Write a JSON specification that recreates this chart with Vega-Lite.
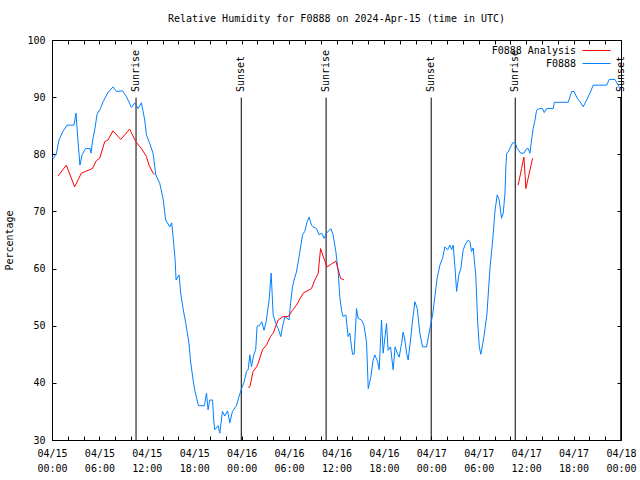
{
  "$schema": "https://vega.github.io/schema/vega-lite/v6.json",
  "width": 569,
  "height": 400,
  "autosize": "none",
  "padding": {"left": 52, "top": 40, "right": 19, "bottom": 40},
  "background": "white",
  "title": {"text": "Relative Humidity for F0888 on 2024-Apr-15 (time in UTC)", "font": "DejaVu Sans Mono", "fontSize": 10, "fontWeight": "normal", "color": "black", "offset": 11, "anchor": "middle"},
  "config": {
    "view": {"stroke": "black", "strokeWidth": 1},
    "font": "DejaVu Sans Mono",
    "axis": {"grid": false, "domain": false, "tickColor": "black", "tickWidth": 1, "labelFont": "DejaVu Sans Mono", "labelFontSize": 10, "labelColor": "black", "titleFont": "DejaVu Sans Mono", "titleFontSize": 10, "titleFontWeight": "normal", "titleColor": "black"},
    "legend": {"labelFont": "DejaVu Sans Mono", "labelFontSize": 10, "labelColor": "black"}
  },
  "datasets": {
    "ev": [
      {"t": "2024-04-15T10:38Z", "e": "Sunrise"},
      {"t": "2024-04-15T23:57Z", "e": "Sunset"},
      {"t": "2024-04-16T10:41Z", "e": "Sunrise"},
      {"t": "2024-04-16T23:59Z", "e": "Sunset"},
      {"t": "2024-04-17T10:37Z", "e": "Sunrise"},
      {"t": "2024-04-17T23:58Z", "e": "Sunset"}
    ],
    "hum": [
      {"s":"F0888","g":"b","t":"2024-04-15T00:00Z","v":79.5},
      {"s":"F0888","g":"b","t":"2024-04-15T00:13Z","v":79.3},
      {"s":"F0888","g":"b","t":"2024-04-15T00:34Z","v":80.2},
      {"s":"F0888","g":"b","t":"2024-04-15T00:53Z","v":82.5},
      {"s":"F0888","g":"b","t":"2024-04-15T01:23Z","v":84},
      {"s":"F0888","g":"b","t":"2024-04-15T01:54Z","v":85.1},
      {"s":"F0888","g":"b","t":"2024-04-15T02:47Z","v":85.1},
      {"s":"F0888","g":"b","t":"2024-04-15T03:02Z","v":87.2},
      {"s":"F0888","g":"b","t":"2024-04-15T03:17Z","v":82.5},
      {"s":"F0888","g":"b","t":"2024-04-15T03:32Z","v":78.1},
      {"s":"F0888","g":"b","t":"2024-04-15T03:48Z","v":79.9},
      {"s":"F0888","g":"b","t":"2024-04-15T04:14Z","v":81},
      {"s":"F0888","g":"b","t":"2024-04-15T04:49Z","v":81},
      {"s":"F0888","g":"b","t":"2024-04-15T04:56Z","v":80.2},
      {"s":"F0888","g":"b","t":"2024-04-15T05:11Z","v":82.8},
      {"s":"F0888","g":"b","t":"2024-04-15T05:26Z","v":84.5},
      {"s":"F0888","g":"b","t":"2024-04-15T05:42Z","v":87},
      {"s":"F0888","g":"b","t":"2024-04-15T06:08Z","v":88},
      {"s":"F0888","g":"b","t":"2024-04-15T06:28Z","v":89.2},
      {"s":"F0888","g":"b","t":"2024-04-15T07:05Z","v":90.8},
      {"s":"F0888","g":"b","t":"2024-04-15T07:43Z","v":91.8},
      {"s":"F0888","g":"b","t":"2024-04-15T08:09Z","v":91},
      {"s":"F0888","g":"b","t":"2024-04-15T08:55Z","v":91.1},
      {"s":"F0888","g":"b","t":"2024-04-15T09:25Z","v":90.1},
      {"s":"F0888","g":"b","t":"2024-04-15T10:03Z","v":88.2},
      {"s":"F0888","g":"b","t":"2024-04-15T10:28Z","v":89},
      {"s":"F0888","g":"b","t":"2024-04-15T10:53Z","v":88},
      {"s":"F0888","g":"b","t":"2024-04-15T11:19Z","v":89},
      {"s":"F0888","g":"b","t":"2024-04-15T11:44Z","v":86},
      {"s":"F0888","g":"b","t":"2024-04-15T11:57Z","v":83.4},
      {"s":"F0888","g":"b","t":"2024-04-15T12:22Z","v":81.9},
      {"s":"F0888","g":"b","t":"2024-04-15T12:47Z","v":80.2},
      {"s":"F0888","g":"b","t":"2024-04-15T13:08Z","v":76.4},
      {"s":"F0888","g":"b","t":"2024-04-15T13:38Z","v":74.9},
      {"s":"F0888","g":"b","t":"2024-04-15T14:03Z","v":72.3},
      {"s":"F0888","g":"b","t":"2024-04-15T14:23Z","v":68.5},
      {"s":"F0888","g":"b","t":"2024-04-15T14:54Z","v":67.3},
      {"s":"F0888","g":"b","t":"2024-04-15T15:09Z","v":68},
      {"s":"F0888","g":"b","t":"2024-04-15T15:19Z","v":65.6},
      {"s":"F0888","g":"b","t":"2024-04-15T15:34Z","v":61.8},
      {"s":"F0888","g":"b","t":"2024-04-15T15:42Z","v":58},
      {"s":"F0888","g":"b","t":"2024-04-15T16:05Z","v":58.9},
      {"s":"F0888","g":"b","t":"2024-04-15T16:17Z","v":55.7},
      {"s":"F0888","g":"b","t":"2024-04-15T16:35Z","v":53},
      {"s":"F0888","g":"b","t":"2024-04-15T16:56Z","v":50.4},
      {"s":"F0888","g":"b","t":"2024-04-15T17:20Z","v":46.9},
      {"s":"F0888","g":"b","t":"2024-04-15T17:31Z","v":44},
      {"s":"F0888","g":"b","t":"2024-04-15T17:51Z","v":40.5},
      {"s":"F0888","g":"b","t":"2024-04-15T18:06Z","v":38.5},
      {"s":"F0888","g":"b","t":"2024-04-15T18:32Z","v":36},
      {"s":"F0888","g":"b","t":"2024-04-15T19:17Z","v":36},
      {"s":"F0888","g":"b","t":"2024-04-15T19:33Z","v":38.2},
      {"s":"F0888","g":"b","t":"2024-04-15T19:45Z","v":35.3},
      {"s":"F0888","g":"b","t":"2024-04-15T19:58Z","v":37},
      {"s":"F0888","g":"b","t":"2024-04-15T20:19Z","v":37},
      {"s":"F0888","g":"b","t":"2024-04-15T20:28Z","v":33.5},
      {"s":"F0888","g":"b","t":"2024-04-15T20:36Z","v":31.8},
      {"s":"F0888","g":"b","t":"2024-04-15T21:01Z","v":32.5},
      {"s":"F0888","g":"b","t":"2024-04-15T21:14Z","v":31.2},
      {"s":"F0888","g":"b","t":"2024-04-15T21:34Z","v":35},
      {"s":"F0888","g":"b","t":"2024-04-15T21:52Z","v":34.2},
      {"s":"F0888","g":"b","t":"2024-04-15T22:13Z","v":35.1},
      {"s":"F0888","g":"b","t":"2024-04-15T22:30Z","v":33},
      {"s":"F0888","g":"b","t":"2024-04-15T22:50Z","v":35},
      {"s":"F0888","g":"b","t":"2024-04-15T23:20Z","v":36},
      {"s":"F0888","g":"b","t":"2024-04-15T23:40Z","v":37.6},
      {"s":"F0888","g":"b","t":"2024-04-15T23:59Z","v":39},
      {"s":"F0888","g":"b","t":"2024-04-16T00:19Z","v":40.2},
      {"s":"F0888","g":"b","t":"2024-04-16T00:37Z","v":42},
      {"s":"F0888","g":"b","t":"2024-04-16T00:49Z","v":42.3},
      {"s":"F0888","g":"b","t":"2024-04-16T01:02Z","v":44.9},
      {"s":"F0888","g":"b","t":"2024-04-16T01:14Z","v":42.8},
      {"s":"F0888","g":"b","t":"2024-04-16T01:32Z","v":44.9},
      {"s":"F0888","g":"b","t":"2024-04-16T01:47Z","v":45.9},
      {"s":"F0888","g":"b","t":"2024-04-16T01:57Z","v":49.9},
      {"s":"F0888","g":"b","t":"2024-04-16T02:17Z","v":50.1},
      {"s":"F0888","g":"b","t":"2024-04-16T02:33Z","v":50.7},
      {"s":"F0888","g":"b","t":"2024-04-16T02:50Z","v":49.2},
      {"s":"F0888","g":"b","t":"2024-04-16T03:08Z","v":51},
      {"s":"F0888","g":"b","t":"2024-04-16T03:28Z","v":54.5},
      {"s":"F0888","g":"b","t":"2024-04-16T03:44Z","v":59.2},
      {"s":"F0888","g":"b","t":"2024-04-16T03:59Z","v":51.9},
      {"s":"F0888","g":"b","t":"2024-04-16T04:19Z","v":50.4},
      {"s":"F0888","g":"b","t":"2024-04-16T04:37Z","v":49.5},
      {"s":"F0888","g":"b","t":"2024-04-16T04:57Z","v":48.1},
      {"s":"F0888","g":"b","t":"2024-04-16T05:10Z","v":49.8},
      {"s":"F0888","g":"b","t":"2024-04-16T05:28Z","v":51.6},
      {"s":"F0888","g":"b","t":"2024-04-16T06:00Z","v":51},
      {"s":"F0888","g":"b","t":"2024-04-16T06:11Z","v":53.9},
      {"s":"F0888","g":"b","t":"2024-04-16T06:26Z","v":56.8},
      {"s":"F0888","g":"b","t":"2024-04-16T06:38Z","v":58},
      {"s":"F0888","g":"b","t":"2024-04-16T06:56Z","v":59.4},
      {"s":"F0888","g":"b","t":"2024-04-16T07:16Z","v":62.1},
      {"s":"F0888","g":"b","t":"2024-04-16T07:42Z","v":65.9},
      {"s":"F0888","g":"b","t":"2024-04-16T07:59Z","v":66.5},
      {"s":"F0888","g":"b","t":"2024-04-16T08:17Z","v":68.2},
      {"s":"F0888","g":"b","t":"2024-04-16T08:32Z","v":69},
      {"s":"F0888","g":"b","t":"2024-04-16T08:50Z","v":67.6},
      {"s":"F0888","g":"b","t":"2024-04-16T09:02Z","v":67.3},
      {"s":"F0888","g":"b","t":"2024-04-16T09:28Z","v":67},
      {"s":"F0888","g":"b","t":"2024-04-16T09:48Z","v":65.9},
      {"s":"F0888","g":"b","t":"2024-04-16T10:07Z","v":66.2},
      {"s":"F0888","g":"b","t":"2024-04-16T10:26Z","v":65.3},
      {"s":"F0888","g":"b","t":"2024-04-16T10:44Z","v":66.2},
      {"s":"F0888","g":"b","t":"2024-04-16T11:17Z","v":67},
      {"s":"F0888","g":"b","t":"2024-04-16T11:34Z","v":65.9},
      {"s":"F0888","g":"b","t":"2024-04-16T11:55Z","v":63},
      {"s":"F0888","g":"b","t":"2024-04-16T12:13Z","v":59.4},
      {"s":"F0888","g":"b","t":"2024-04-16T12:25Z","v":55.1},
      {"s":"F0888","g":"b","t":"2024-04-16T12:38Z","v":52.7},
      {"s":"F0888","g":"b","t":"2024-04-16T12:50Z","v":51.6},
      {"s":"F0888","g":"b","t":"2024-04-16T13:11Z","v":51.9},
      {"s":"F0888","g":"b","t":"2024-04-16T13:28Z","v":48.1},
      {"s":"F0888","g":"b","t":"2024-04-16T13:41Z","v":48.7},
      {"s":"F0888","g":"b","t":"2024-04-16T13:54Z","v":46.3},
      {"s":"F0888","g":"b","t":"2024-04-16T14:02Z","v":45},
      {"s":"F0888","g":"b","t":"2024-04-16T14:14Z","v":45},
      {"s":"F0888","g":"b","t":"2024-04-16T14:32Z","v":53},
      {"s":"F0888","g":"b","t":"2024-04-16T14:44Z","v":51.3},
      {"s":"F0888","g":"b","t":"2024-04-16T15:10Z","v":51},
      {"s":"F0888","g":"b","t":"2024-04-16T15:28Z","v":50.1},
      {"s":"F0888","g":"b","t":"2024-04-16T15:48Z","v":47.2},
      {"s":"F0888","g":"b","t":"2024-04-16T16:01Z","v":39},
      {"s":"F0888","g":"b","t":"2024-04-16T16:21Z","v":41.1},
      {"s":"F0888","g":"b","t":"2024-04-16T16:38Z","v":44},
      {"s":"F0888","g":"b","t":"2024-04-16T16:51Z","v":44.9},
      {"s":"F0888","g":"b","t":"2024-04-16T17:12Z","v":43.7},
      {"s":"F0888","g":"b","t":"2024-04-16T17:24Z","v":42.3},
      {"s":"F0888","g":"b","t":"2024-04-16T17:42Z","v":51},
      {"s":"F0888","g":"b","t":"2024-04-16T17:54Z","v":45.2},
      {"s":"F0888","g":"b","t":"2024-04-16T18:20Z","v":50.4},
      {"s":"F0888","g":"b","t":"2024-04-16T18:32Z","v":45.7},
      {"s":"F0888","g":"b","t":"2024-04-16T18:50Z","v":46.3},
      {"s":"F0888","g":"b","t":"2024-04-16T19:10Z","v":42.3},
      {"s":"F0888","g":"b","t":"2024-04-16T19:25Z","v":46.3},
      {"s":"F0888","g":"b","t":"2024-04-16T19:41Z","v":45.2},
      {"s":"F0888","g":"b","t":"2024-04-16T19:56Z","v":44.5},
      {"s":"F0888","g":"b","t":"2024-04-16T20:14Z","v":46.9},
      {"s":"F0888","g":"b","t":"2024-04-16T20:26Z","v":48.9},
      {"s":"F0888","g":"b","t":"2024-04-16T20:39Z","v":47.5},
      {"s":"F0888","g":"b","t":"2024-04-16T20:52Z","v":45.2},
      {"s":"F0888","g":"b","t":"2024-04-16T21:04Z","v":44},
      {"s":"F0888","g":"b","t":"2024-04-16T21:22Z","v":47.5},
      {"s":"F0888","g":"b","t":"2024-04-16T21:38Z","v":51},
      {"s":"F0888","g":"b","t":"2024-04-16T21:55Z","v":54.2},
      {"s":"F0888","g":"b","t":"2024-04-16T22:13Z","v":53},
      {"s":"F0888","g":"b","t":"2024-04-16T22:33Z","v":48.7},
      {"s":"F0888","g":"b","t":"2024-04-16T22:53Z","v":46.3},
      {"s":"F0888","g":"b","t":"2024-04-16T23:24Z","v":46.3},
      {"s":"F0888","g":"b","t":"2024-04-16T23:49Z","v":49.5},
      {"s":"F0888","g":"b","t":"2024-04-17T00:10Z","v":51.9},
      {"s":"F0888","g":"b","t":"2024-04-17T00:27Z","v":55.1},
      {"s":"F0888","g":"b","t":"2024-04-17T00:44Z","v":58.3},
      {"s":"F0888","g":"b","t":"2024-04-17T01:05Z","v":60.6},
      {"s":"F0888","g":"b","t":"2024-04-17T01:25Z","v":61.8},
      {"s":"F0888","g":"b","t":"2024-04-17T01:43Z","v":63.8},
      {"s":"F0888","g":"b","t":"2024-04-17T02:04Z","v":63.3},
      {"s":"F0888","g":"b","t":"2024-04-17T02:21Z","v":64.1},
      {"s":"F0888","g":"b","t":"2024-04-17T02:34Z","v":63.3},
      {"s":"F0888","g":"b","t":"2024-04-17T02:46Z","v":64.1},
      {"s":"F0888","g":"b","t":"2024-04-17T02:59Z","v":60.3},
      {"s":"F0888","g":"b","t":"2024-04-17T03:12Z","v":56},
      {"s":"F0888","g":"b","t":"2024-04-17T03:29Z","v":58.9},
      {"s":"F0888","g":"b","t":"2024-04-17T03:44Z","v":60},
      {"s":"F0888","g":"b","t":"2024-04-17T04:02Z","v":63.3},
      {"s":"F0888","g":"b","t":"2024-04-17T04:22Z","v":64.4},
      {"s":"F0888","g":"b","t":"2024-04-17T04:40Z","v":65},
      {"s":"F0888","g":"b","t":"2024-04-17T04:53Z","v":64.7},
      {"s":"F0888","g":"b","t":"2024-04-17T05:05Z","v":63},
      {"s":"F0888","g":"b","t":"2024-04-17T05:18Z","v":63.6},
      {"s":"F0888","g":"b","t":"2024-04-17T05:38Z","v":58.6},
      {"s":"F0888","g":"b","t":"2024-04-17T05:51Z","v":51},
      {"s":"F0888","g":"b","t":"2024-04-17T06:04Z","v":46.3},
      {"s":"F0888","g":"b","t":"2024-04-17T06:16Z","v":45},
      {"s":"F0888","g":"b","t":"2024-04-17T06:39Z","v":48},
      {"s":"F0888","g":"b","t":"2024-04-17T07:02Z","v":52},
      {"s":"F0888","g":"b","t":"2024-04-17T07:25Z","v":60},
      {"s":"F0888","g":"b","t":"2024-04-17T07:46Z","v":65},
      {"s":"F0888","g":"b","t":"2024-04-17T08:03Z","v":70},
      {"s":"F0888","g":"b","t":"2024-04-17T08:20Z","v":72.9},
      {"s":"F0888","g":"b","t":"2024-04-17T08:35Z","v":72},
      {"s":"F0888","g":"b","t":"2024-04-17T08:53Z","v":68.8},
      {"s":"F0888","g":"b","t":"2024-04-17T09:06Z","v":69.7},
      {"s":"F0888","g":"b","t":"2024-04-17T09:19Z","v":73.2},
      {"s":"F0888","g":"b","t":"2024-04-17T09:26Z","v":77.8},
      {"s":"F0888","g":"b","t":"2024-04-17T09:32Z","v":80.2},
      {"s":"F0888","g":"b","t":"2024-04-17T09:44Z","v":80.4},
      {"s":"F0888","g":"b","t":"2024-04-17T09:56Z","v":81},
      {"s":"F0888","g":"b","t":"2024-04-17T10:17Z","v":82},
      {"s":"F0888","g":"b","t":"2024-04-17T10:37Z","v":82},
      {"s":"F0888","g":"b","t":"2024-04-17T10:52Z","v":81},
      {"s":"F0888","g":"b","t":"2024-04-17T11:18Z","v":80.2},
      {"s":"F0888","g":"b","t":"2024-04-17T11:43Z","v":80.2},
      {"s":"F0888","g":"b","t":"2024-04-17T12:04Z","v":81},
      {"s":"F0888","g":"b","t":"2024-04-17T12:16Z","v":81},
      {"s":"F0888","g":"b","t":"2024-04-17T12:29Z","v":80.2},
      {"s":"F0888","g":"b","t":"2024-04-17T12:41Z","v":82.5},
      {"s":"F0888","g":"b","t":"2024-04-17T12:53Z","v":84.5},
      {"s":"F0888","g":"b","t":"2024-04-17T13:07Z","v":86},
      {"s":"F0888","g":"b","t":"2024-04-17T13:19Z","v":87.7},
      {"s":"F0888","g":"b","t":"2024-04-17T13:39Z","v":88},
      {"s":"F0888","g":"b","t":"2024-04-17T14:05Z","v":88},
      {"s":"F0888","g":"b","t":"2024-04-17T14:17Z","v":87.3},
      {"s":"F0888","g":"b","t":"2024-04-17T14:35Z","v":88},
      {"s":"F0888","g":"b","t":"2024-04-17T15:26Z","v":88},
      {"s":"F0888","g":"b","t":"2024-04-17T15:33Z","v":89.1},
      {"s":"F0888","g":"b","t":"2024-04-17T17:19Z","v":89.1},
      {"s":"F0888","g":"b","t":"2024-04-17T17:46Z","v":91},
      {"s":"F0888","g":"b","t":"2024-04-17T18:03Z","v":91},
      {"s":"F0888","g":"b","t":"2024-04-17T18:28Z","v":89.8},
      {"s":"F0888","g":"b","t":"2024-04-17T18:49Z","v":89.2},
      {"s":"F0888","g":"b","t":"2024-04-17T19:13Z","v":88.3},
      {"s":"F0888","g":"b","t":"2024-04-17T19:39Z","v":89.5},
      {"s":"F0888","g":"b","t":"2024-04-17T20:04Z","v":90.7},
      {"s":"F0888","g":"b","t":"2024-04-17T20:29Z","v":92.1},
      {"s":"F0888","g":"b","t":"2024-04-17T22:11Z","v":92.1},
      {"s":"F0888","g":"b","t":"2024-04-17T22:31Z","v":93.1},
      {"s":"F0888","g":"b","t":"2024-04-17T23:14Z","v":93.1},
      {"s":"F0888","g":"b","t":"2024-04-17T23:39Z","v":92.1},
      {"s":"F0888","g":"b","t":"2024-04-17T23:58Z","v":91.2},
      {"s":"F0888 Analysis","g":"r1","t":"2024-04-15T00:46Z","v":76.2},
      {"s":"F0888 Analysis","g":"r1","t":"2024-04-15T01:49Z","v":78.1},
      {"s":"F0888 Analysis","g":"r1","t":"2024-04-15T02:52Z","v":74.3},
      {"s":"F0888 Analysis","g":"r1","t":"2024-04-15T03:43Z","v":76.7},
      {"s":"F0888 Analysis","g":"r1","t":"2024-04-15T04:46Z","v":77.3},
      {"s":"F0888 Analysis","g":"r1","t":"2024-04-15T05:07Z","v":77.5},
      {"s":"F0888 Analysis","g":"r1","t":"2024-04-15T05:37Z","v":78.9},
      {"s":"F0888 Analysis","g":"r1","t":"2024-04-15T06:02Z","v":79.3},
      {"s":"F0888 Analysis","g":"r1","t":"2024-04-15T06:40Z","v":82.2},
      {"s":"F0888 Analysis","g":"r1","t":"2024-04-15T07:05Z","v":82.5},
      {"s":"F0888 Analysis","g":"r1","t":"2024-04-15T07:43Z","v":84.1},
      {"s":"F0888 Analysis","g":"r1","t":"2024-04-15T08:42Z","v":82.6},
      {"s":"F0888 Analysis","g":"r1","t":"2024-04-15T09:12Z","v":83.4},
      {"s":"F0888 Analysis","g":"r1","t":"2024-04-15T09:50Z","v":84.4},
      {"s":"F0888 Analysis","g":"r1","t":"2024-04-15T10:36Z","v":82.2},
      {"s":"F0888 Analysis","g":"r1","t":"2024-04-15T11:19Z","v":81},
      {"s":"F0888 Analysis","g":"r1","t":"2024-04-15T11:57Z","v":79.6},
      {"s":"F0888 Analysis","g":"r1","t":"2024-04-15T12:17Z","v":78.1},
      {"s":"F0888 Analysis","g":"r1","t":"2024-04-15T12:47Z","v":76.7},
      {"s":"F0888 Analysis","g":"r1","t":"2024-04-15T13:00Z","v":76.5},
      {"s":"F0888 Analysis","g":"r2","t":"2024-04-16T00:49Z","v":39.2},
      {"s":"F0888 Analysis","g":"r2","t":"2024-04-16T01:02Z","v":39.3},
      {"s":"F0888 Analysis","g":"r2","t":"2024-04-16T01:27Z","v":42},
      {"s":"F0888 Analysis","g":"r2","t":"2024-04-16T01:53Z","v":42.8},
      {"s":"F0888 Analysis","g":"r2","t":"2024-04-16T02:05Z","v":43.4},
      {"s":"F0888 Analysis","g":"r2","t":"2024-04-16T02:38Z","v":45.8},
      {"s":"F0888 Analysis","g":"r2","t":"2024-04-16T03:08Z","v":46.6},
      {"s":"F0888 Analysis","g":"r2","t":"2024-04-16T03:39Z","v":48.1},
      {"s":"F0888 Analysis","g":"r2","t":"2024-04-16T03:59Z","v":48.7},
      {"s":"F0888 Analysis","g":"r2","t":"2024-04-16T04:37Z","v":51},
      {"s":"F0888 Analysis","g":"r2","t":"2024-04-16T05:14Z","v":51.6},
      {"s":"F0888 Analysis","g":"r2","t":"2024-04-16T05:53Z","v":51.6},
      {"s":"F0888 Analysis","g":"r2","t":"2024-04-16T06:26Z","v":52.7},
      {"s":"F0888 Analysis","g":"r2","t":"2024-04-16T06:56Z","v":53.6},
      {"s":"F0888 Analysis","g":"r2","t":"2024-04-16T07:47Z","v":55.7},
      {"s":"F0888 Analysis","g":"r2","t":"2024-04-16T08:50Z","v":56.5},
      {"s":"F0888 Analysis","g":"r2","t":"2024-04-16T09:16Z","v":58},
      {"s":"F0888 Analysis","g":"r2","t":"2024-04-16T09:41Z","v":59.2},
      {"s":"F0888 Analysis","g":"r2","t":"2024-04-16T09:59Z","v":63.5},
      {"s":"F0888 Analysis","g":"r2","t":"2024-04-16T10:19Z","v":62.1},
      {"s":"F0888 Analysis","g":"r2","t":"2024-04-16T10:49Z","v":60.3},
      {"s":"F0888 Analysis","g":"r2","t":"2024-04-16T11:22Z","v":60.8},
      {"s":"F0888 Analysis","g":"r2","t":"2024-04-16T11:55Z","v":61.3},
      {"s":"F0888 Analysis","g":"r2","t":"2024-04-16T12:13Z","v":59.8},
      {"s":"F0888 Analysis","g":"r2","t":"2024-04-16T12:31Z","v":58.3},
      {"s":"F0888 Analysis","g":"r2","t":"2024-04-16T12:58Z","v":58},
      {"s":"F0888 Analysis","g":"r3","t":"2024-04-17T10:59Z","v":74.6},
      {"s":"F0888 Analysis","g":"r3","t":"2024-04-17T11:25Z","v":77.5},
      {"s":"F0888 Analysis","g":"r3","t":"2024-04-17T11:43Z","v":79.5},
      {"s":"F0888 Analysis","g":"r3","t":"2024-04-17T11:58Z","v":74},
      {"s":"F0888 Analysis","g":"r3","t":"2024-04-17T12:29Z","v":77.3},
      {"s":"F0888 Analysis","g":"r3","t":"2024-04-17T12:49Z","v":79.3}
    ]
  },
  "layer": [
    {
      "data": {"name": "ev"},
      "mark": {"type": "rule", "color": "black", "strokeWidth": 1},
      "encoding": {
        "x": {"field": "t", "type": "temporal",
              "scale": {"type": "utc", "domain": [1713139200000, 1713398400000]},
              "axis": {"orient": "top", "labels": false, "title": null, "tickSize": -4,
                       "values": [1713139200000,1713146400000,1713153600000,1713160800000,1713168000000,1713175200000,1713182400000,1713189600000,1713196800000,1713204000000,1713211200000,1713218400000,1713225600000,1713232800000,1713240000000,1713247200000,1713254400000,1713261600000,1713268800000,1713276000000,1713283200000,1713290400000,1713297600000,1713304800000,1713312000000,1713319200000,1713326400000,1713333600000,1713340800000,1713348000000,1713355200000,1713362400000,1713369600000,1713376800000,1713384000000,1713391200000,1713398400000]}},
        "y": {"datum": 30, "type": "quantitative", "scale": {"domain": [30, 100], "nice": false},
              "axis": {"orient": "right", "labels": false, "title": null, "tickSize": -4, "values": [30, 40, 50, 60, 70, 80, 90, 100]}},
        "y2": {"datum": 89.9}
      }
    },
    {
      "data": {"name": "ev"},
      "mark": {"type": "text", "angle": 270, "align": "left", "baseline": "middle", "font": "DejaVu Sans Mono", "fontSize": 10, "color": "black"},
      "encoding": {
        "x": {"field": "t", "type": "temporal", "axis": null},
        "y": {"datum": 90.9, "type": "quantitative", "axis": null},
        "text": {"field": "e"}
      }
    },
    {
      "data": {"name": "hum"},
      "mark": {"type": "line", "strokeWidth": 1, "clip": true},
      "encoding": {
        "x": {"field": "t", "type": "temporal",
              "axis": {"orient": "bottom", "title": null, "tickSize": -4,
                       "values": [1713139200000,1713146400000,1713153600000,1713160800000,1713168000000,1713175200000,1713182400000,1713189600000,1713196800000,1713204000000,1713211200000,1713218400000,1713225600000,1713232800000,1713240000000,1713247200000,1713254400000,1713261600000,1713268800000,1713276000000,1713283200000,1713290400000,1713297600000,1713304800000,1713312000000,1713319200000,1713326400000,1713333600000,1713340800000,1713348000000,1713355200000,1713362400000,1713369600000,1713376800000,1713384000000,1713391200000,1713398400000],
                       "labelExpr": "utchours(datum.value) % 6 == 0 ? [utcFormat(datum.value, '%m/%d'), utcFormat(datum.value, '%H:%M')] : ''",
                       "labelFlush": false, "labelOverlap": false, "labelPadding": 12, "labelLineHeight": 15, "labelBaseline": "top"}},
        "y": {"field": "v", "type": "quantitative",
              "axis": {"orient": "left", "title": "Percentage", "tickSize": -4, "values": [30, 40, 50, 60, 70, 80, 90, 100], "labelPadding": 11, "titlePadding": 12}},
        "color": {"field": "s", "type": "nominal",
                  "scale": {"domain": ["F0888 Analysis", "F0888"], "range": ["#ff0000", "#0080ff"]},
                  "legend": {"title": null, "orient": "none", "legendX": 539, "legendY": 5, "padding": 0, "symbolType": "M-2.8,0H2.8", "symbolSize": 100, "symbolStrokeWidth": 1, "symbolFillColor": "transparent", "labelAlign": "right", "labelOffset": -26, "rowPadding": 2}},
        "detail": {"field": "g"}
      }
    }
  ]
}
